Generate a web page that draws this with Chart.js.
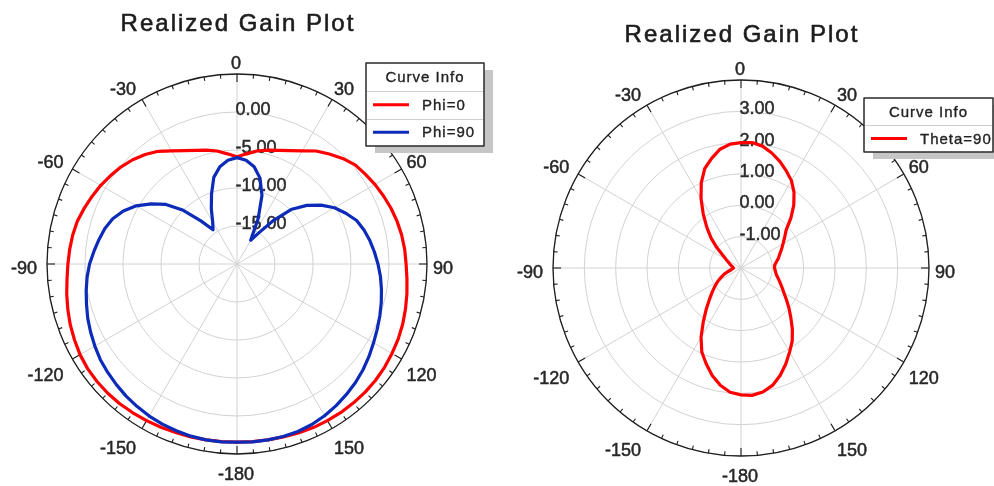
<!DOCTYPE html>
<html>
<head>
<meta charset="utf-8">
<script src="https://cdn.jsdelivr.net/npm/chart.js@4.4.1/dist/chart.umd.min.js"></script>
<style>
  html, body { margin: 0; padding: 0; background: #ffffff; }
  #wrap { position: relative; width: 994px; height: 486px; overflow: hidden; background: #ffffff; }
  #wrap canvas { position: absolute; top: 0; }
  #gainLeft { left: 0; }
  #gainRight { left: 497px; }
</style>
</head>
<body>
<div id="wrap">
  <canvas id="gainLeft" width="497" height="486"></canvas>
  <canvas id="gainRight" width="497" height="486"></canvas>
</div>
<script>
// Angle categories in degrees, clockwise from the top (5 degree steps)
const angles = [
  0, 5, 10, 15, 20, 25, 30, 35, 40, 45, 50, 55, 60, 65, 70, 75, 80, 85,
  90, 95, 100, 105, 110, 115, 120, 125, 130, 135, 140, 145, 150, 155, 160, 165, 170, 175,
  -180, -175, -170, -165, -160, -155, -150, -145, -140, -135, -130, -125, -120, -115, -110, -105, -100, -95,
  -90, -85, -80, -75, -70, -65, -60, -55, -50, -45, -40, -35, -30, -25, -20, -15, -10, -5
];

// Realized gain (dB), Phi = 0 cut
const gainPhi0 = [
  -5.9, -5.45, -4.9, -4.5, -4.1, -3.55, -2.8, -1.85, -1.1, -0.35, 0.3, 0.6, 0.95, 1.25, 1.55, 1.8, 2.0, 2.15,
  2.25, 2.45, 2.7, 2.95, 3.2, 3.4, 3.55, 3.7, 3.8, 3.85, 3.85, 3.85, 3.8, 3.75, 3.65, 3.55, 3.5, 3.45,
  3.45, 3.45, 3.5, 3.55, 3.6, 3.7, 3.8, 3.9, 4.0, 4.05, 4.05, 4.0, 3.85, 3.6, 3.35, 3.05, 2.75, 2.45,
  2.25, 2.1, 1.95, 1.75, 1.4, 1.05, 0.7, 0.3, -0.1, -0.6, -1.2, -1.9, -2.8, -3.55, -4.1, -4.5, -4.9, -5.45
];

// Realized gain (dB), Phi = 90 cut
const gainPhi90 = [
  -6.0, -6.3, -7.0, -8.3, -10.4, -13.4, -16.4, -15.0, -12.5, -9.8, -8.0, -6.5, -5.2, -4.2, -3.25, -2.7, -2.25, -1.85,
  -1.45, -1.05, -0.7, -0.35, 0.0, 0.35, 0.75, 1.2, 1.65, 2.05, 2.4, 2.75, 3.05, 3.3, 3.45, 3.5, 3.5, 3.5,
  3.45, 3.5, 3.5, 3.45, 3.35, 3.25, 3.1, 2.9, 2.7, 2.45, 2.2, 1.95, 1.6, 1.25, 0.9, 0.5, 0.15, -0.2,
  -0.6, -1.1, -1.55, -2.0, -2.6, -3.5, -4.7, -6.2, -7.8, -10.0, -12.6, -14.5, -13.6, -12.0, -10.2, -8.2, -7.0, -6.3
];

// Realized gain (dB), Theta = 90 cut
const gainTheta90 = [
  2.0, 2.02, 1.95, 1.8, 1.62, 1.42, 1.22, 0.95, 0.62, 0.25, -0.12, -0.3, -0.45, -0.57, -0.68, -0.76, -0.85, -0.92,
  -0.93, -0.9, -0.86, -0.78, -0.68, -0.56, -0.42, -0.23, 0.0, 0.25, 0.55, 0.85, 1.1, 1.38, 1.65, 1.88, 2.02, 2.08,
  2.05, 1.98, 1.8, 1.55, 1.25, 0.96, 0.55, 0.1, -0.27, -0.57, -0.8, -0.98, -1.14, -1.3, -1.43, -1.57, -1.68, -1.73,
  -1.76, -1.74, -1.71, -1.67, -1.62, -1.55, -1.45, -1.3, -1.0, -0.65, -0.3, 0.1, 0.55, 1.0, 1.38, 1.62, 1.85, 1.97
];

// Radial tick values (dB)
const ticksLeft = [-20, -15, -10, -5, 0, 5];
const ticksRight = [-2, -1, 0, 1, 2, 3, 4];

const FONT = '"Liberation Sans", Arial, Helvetica, sans-serif';
const GRID = '#d2d2d2';

// Fill text with a hairline outline so the glyphs read a little heavier
function solidText(ctx, txt, x, y, w) {
  ctx.lineWidth = w;
  ctx.strokeStyle = ctx.fillStyle;
  ctx.lineJoin = 'round';
  ctx.strokeText(txt, x, y);
  ctx.fillText(txt, x, y);
}

// Polar frame: outer ring with degree ticks, angle labels, dB labels, title and curve table
const polarFrame = {
  id: 'polarFrame',
  beforeDatasetsDraw(chart, args, o) {
    const s = chart.scales.r;
    const ctx = chart.ctx;
    const cx = s.xCenter, cy = s.yCenter, R = s.drawingArea;
    const labels = chart.data.labels;
    ctx.save();

    // dB labels along the 0 degree spoke
    ctx.fillStyle = '#2b2b2b';
    ctx.font = '18px ' + FONT;
    ctx.textAlign = 'left';
    ctx.textBaseline = 'alphabetic';
    s.ticks.forEach(t => {
      if (t.value <= s.min || t.value >= s.max) return;
      const d = s.getDistanceFromCenterForValue(t.value);
      solidText(ctx, t.value.toFixed(2), cx - 1.5, cy - d + 3, 0.5);
    });

    // outer ring
    ctx.strokeStyle = '#1f1f1f';
    ctx.lineWidth = 1.3;
    ctx.beginPath();
    ctx.arc(cx, cy, R, 0, Math.PI * 2);
    ctx.stroke();

    // inward ticks every 5 degrees, longer every 30
    ctx.lineWidth = 1.1;
    labels.forEach((a, i) => {
      const len = a % 30 === 0 ? 8 : 4;
      const p0 = s.getPointPosition(i, R);
      const p1 = s.getPointPosition(i, R - len);
      ctx.beginPath();
      ctx.moveTo(p0.x, p0.y);
      ctx.lineTo(p1.x, p1.y);
      ctx.stroke();
    });

    // angle labels every 30 degrees
    const size = 18;
    const cap = size * 0.716;
    ctx.font = size + 'px ' + FONT;
    ctx.fillStyle = '#262626';
    labels.forEach((a, i) => {
      if (a % 30 !== 0) return;
      const t = s.getIndexAngle(i);
      const sn = Math.sin(t), cs = Math.cos(t);
      const x = cx - 2 + (R + 8) * sn;
      const y = cy + 4 - (R + 9.5) * cs;
      ctx.textAlign = Math.abs(sn) < 1e-6 ? 'center' : (sn > 0 ? 'left' : 'right');
      let yb;
      if (Math.abs(cs) < 1e-6) yb = y + cap / 2;
      else if (cs > 0) yb = y;
      else yb = y + cap;
      solidText(ctx, String(a), x + (Math.abs(sn) < 1e-6 ? 1 : 0), yb, 0.5);
    });
    ctx.restore();
  },
  afterDraw(chart, args, o) {
    const s = chart.scales.r;
    const ctx = chart.ctx;
    ctx.save();

    // title
    ctx.font = '24px ' + FONT;
    if ('letterSpacing' in ctx) ctx.letterSpacing = '2px';
    ctx.fillStyle = '#1c1c1c';
    ctx.textAlign = 'center';
    ctx.textBaseline = 'alphabetic';
    solidText(ctx, o.title, s.xCenter + 1, o.titleY, 0.6);

    // curve table
    const L = o.legend;
    const sets = chart.data.datasets;
    const h = L.headH + L.rowH * sets.length;
    ctx.fillStyle = '#c6c6c6';
    ctx.fillRect(L.x + 9, L.y + 7, L.w, h);
    ctx.fillStyle = '#ffffff';
    ctx.fillRect(L.x, L.y, L.w, h);

    ctx.strokeStyle = '#cfcfcf';
    ctx.lineWidth = 1;
    for (let k = 0; k < sets.length; k++) {
      const yy = Math.round(L.y + L.headH + L.rowH * k) + 0.5;
      ctx.beginPath();
      ctx.moveTo(L.x + 1, yy);
      ctx.lineTo(L.x + L.w - 1, yy);
      ctx.stroke();
    }
    ctx.strokeStyle = '#2a2a2a';
    ctx.lineWidth = 1.5;
    ctx.strokeRect(L.x, L.y, L.w, h);

    ctx.font = '15px ' + FONT;
    if ('letterSpacing' in ctx) ctx.letterSpacing = '1px';
    ctx.fillStyle = '#222222';
    ctx.textBaseline = 'middle';
    ctx.textAlign = 'center';
    solidText(ctx, 'Curve Info', L.x + L.w / 2, L.y + L.headH / 2 + 1, 0.35);
    ctx.textAlign = 'left';
    sets.forEach((ds, k) => {
      const ym = L.y + L.headH + L.rowH * k + L.rowH / 2;
      ctx.strokeStyle = ds.borderColor;
      ctx.lineWidth = 3;
      ctx.beginPath();
      ctx.moveTo(L.x + 7, ym);
      ctx.lineTo(L.x + 43, ym);
      ctx.stroke();
      ctx.fillStyle = '#222222';
      solidText(ctx, ds.label, L.x + 56, ym + 1, 0.35);
    });
    ctx.restore();
  }
};

function gainChart(id, datasets, ticks, padding, frame) {
  return new Chart(document.getElementById(id), {
    type: 'radar',
    data: { labels: angles, datasets },
    options: {
      responsive: false,
      animation: false,
      devicePixelRatio: 1,
      layout: { padding },
      events: [],
      plugins: {
        legend: { display: false },
        tooltip: { enabled: false },
        title: { display: false },
        polarFrame: frame
      },
      elements: {
        point: { radius: 0, hoverRadius: 0 },
        line: { borderWidth: 3.2, tension: 0, fill: false, borderJoinStyle: 'round' }
      },
      scales: {
        r: {
          min: ticks[0],
          max: ticks[ticks.length - 1],
          startAngle: 0,
          ticks: { display: false, stepSize: ticks[1] - ticks[0] },
          pointLabels: { display: false },
          grid: { circular: true, color: GRID, lineWidth: 1 },
          angleLines: {
            display: true,
            color: c => (angles[c.index] % 30 === 0 ? GRID : 'rgba(0,0,0,0)'),
            lineWidth: c => (angles[c.index] % 30 === 0 ? 1 : 0)
          }
        }
      }
    },
    plugins: [polarFrame]
  });
}

gainChart('gainLeft', [
  { label: 'Phi=0', data: gainPhi0, borderColor: '#ff0000', backgroundColor: 'rgba(0,0,0,0)', fill: false, order: 2 },
  { label: 'Phi=90', data: gainPhi90, borderColor: '#0b2bb8', backgroundColor: 'rgba(0,0,0,0)', fill: false, order: 1 }
], ticksLeft, { left: 47, right: 70, top: 74, bottom: 32 }, {
  title: 'Realized Gain Plot',
  titleY: 30.5,
  legend: { x: 366, y: 63, w: 118, headH: 28, rowH: 27.5 }
});

gainChart('gainRight', [
  { label: 'Theta=90', data: gainTheta90, borderColor: '#ff0000', backgroundColor: 'rgba(0,0,0,0)', fill: false }
], ticksRight, { left: 56, right: 65, top: 80, bottom: 30 }, {
  title: 'Realized Gain Plot',
  titleY: 41.5,
  legend: { x: 367, y: 98, w: 129, headH: 27, rowH: 27 }
});
</script>
</body>
</html>
